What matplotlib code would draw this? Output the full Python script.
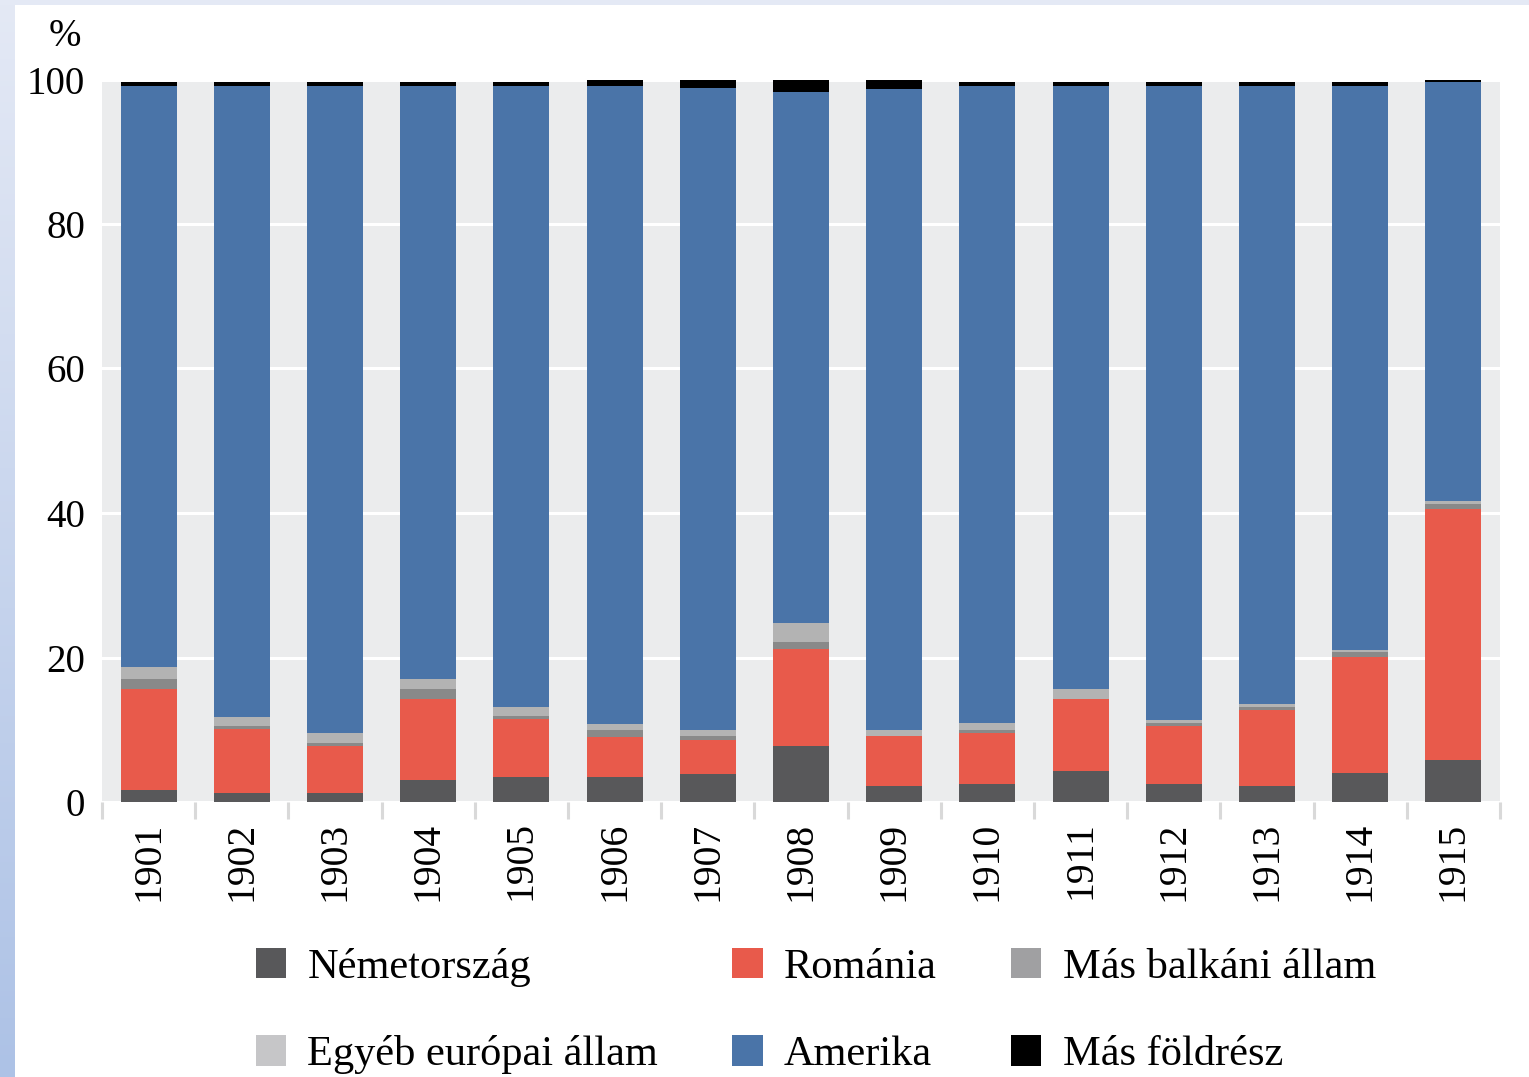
import numpy as np
import matplotlib
matplotlib.use("Agg")
import matplotlib.pyplot as plt
from matplotlib.patches import Patch, Rectangle
from matplotlib.ticker import FixedLocator

plt.rcParams['font.family'] = ['Liberation Serif', 'DejaVu Serif']

years = [str(y) for y in range(1901, 1916)]

nemet = [1.6, 1.2, 1.2, 3.0, 3.5, 3.5, 3.9, 7.7, 2.15, 2.55, 4.35, 2.55, 2.15, 3.95, 5.75]
romania = [14.0, 8.9, 6.5, 11.2, 8.0, 5.55, 4.75, 13.45, 6.95, 6.95, 9.85, 7.9, 10.65, 16.15, 34.85]
balkan = [1.4, 0.35, 0.4, 1.4, 0.4, 0.95, 0.45, 0.95, 0.0, 0.5, 0.0, 0.45, 0.4, 0.6, 0.6]
europa = [1.75, 1.35, 1.4, 1.4, 1.3, 0.85, 0.9, 2.7, 0.9, 0.9, 1.4, 0.5, 0.4, 0.4, 0.4]
amerika = [80.35, 87.3, 89.6, 82.1, 85.9, 88.25, 88.8, 73.5, 88.75, 88.2, 83.5, 87.7, 85.5, 78.0, 58.05]
mas_foldresz = [0.55, 0.55, 0.55, 0.55, 0.55, 0.9, 1.2, 1.7, 1.25, 0.55, 0.55, 0.55, 0.55, 0.55, 0.35]

labels = ["Németország", "Románia", "Más balkáni állam",
          "Egyéb európai állam", "Amerika", "Más földrész"]
series = [nemet, romania, balkan, europa, amerika, mas_foldresz]
bar_colors = ["#58585a", "#e85a4b", "#898989", "#b3b3b3", "#4a74a8", "#000000"]
legend_colors = ["#58585a", "#e85a4b", "#a0a0a2", "#c6c6c8", "#4a74a8", "#000000"]

W, H = 1529, 1077
fig = plt.figure(figsize=(W / 100, H / 100), dpi=100)

# screenshot frame: bluish strip on the left, thin strip on top
bg = fig.add_axes([0, 0, 1, 1])
bg.axis("off")
top_c = np.array([0xe4, 0xe9, 0xf5]) / 255
bot_c = np.array([0xad, 0xc2, 0xe6]) / 255
t = np.linspace(0, 1, 200)[:, None, None]
grad = top_c * (1 - t) + bot_c * t
bg.imshow(grad, extent=[0, 1, 0, 1], aspect="auto", zorder=0)
bg.add_patch(Rectangle((15 / W, 0), 1, (H - 5) / H, transform=bg.transAxes,
                       facecolor="white", edgecolor="none", zorder=1))
bg.set_xlim(0, 1)
bg.set_ylim(0, 1)

ax = fig.add_axes([102 / W, 1 - 802 / H, (1500 - 102) / W, (802 - 79.5) / H])
ax.set_facecolor("#ebeced")

x = np.arange(len(years))
bottom = np.zeros(len(years))
for vals, col in zip(series, bar_colors):
    ax.bar(x, vals, width=0.6, bottom=bottom, color=col, edgecolor="none", zorder=3)
    bottom += np.array(vals)

ax.set_xlim(-0.5, len(years) - 0.5)
ax.set_ylim(0, 100)
ax.set_yticks([0, 20, 40, 60, 80, 100])
ax.yaxis.grid(True, color="white", linewidth=2.2)
ax.set_axisbelow(True)
for s in ax.spines.values():
    s.set_visible(False)

ax.set_xticks(x)
ax.set_xticklabels(years, rotation=90)
ax.xaxis.set_minor_locator(FixedLocator(np.arange(-0.5, len(years), 1.0)))
ax.tick_params(axis="x", which="major", length=0, pad=14, labelsize=28.5)
ax.tick_params(axis="x", which="minor", length=12, width=2.2, color="#d9d9d9")
ax.tick_params(axis="y", length=0, pad=12, labelsize=28)

fig.text(65 / W, 1 - 36 / H, "%", fontsize=28, ha="center", va="center")

handles = [Patch(facecolor=c, edgecolor="none") for c in legend_colors]
order = [0, 3, 1, 4, 2, 5]
fig.legend([handles[i] for i in order], [labels[i] for i in order],
           ncol=3, loc="upper left", bbox_to_anchor=(226 / W, 1 - 918 / H),
           frameon=False, fontsize=30.5, handlelength=0.72, handleheight=0.72,
           handletextpad=0.5, labelspacing=1.15, columnspacing=1.75,
           borderpad=0.2)

fig.savefig("out.png", dpi=100)
